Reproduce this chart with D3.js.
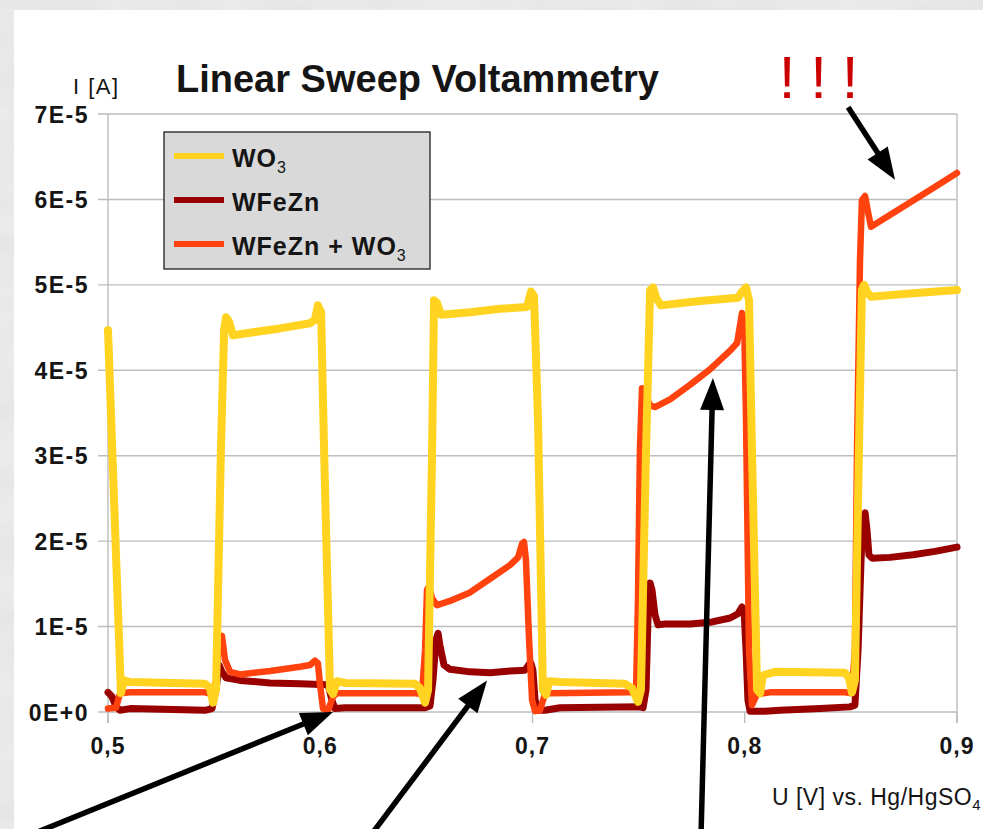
<!DOCTYPE html>
<html>
<head>
<meta charset="utf-8">
<script src="https://cdn.jsdelivr.net/npm/d3@7"></script>
<style>
html,body{margin:0;padding:0;background:#e8e8e8;}
svg{display:block;}
</style>
</head>
<body>
<svg id="chart" width="983" height="829"></svg>
<script>
// ---- data (voltage in V, current in µA; 10 µA = 1E-5 A) ----
const seriesNames = ["WO3", "WFeZn", "WFeZn + WO3"];
const xTicks = [0.5, 0.6, 0.7, 0.8, 0.9];
const xTickLabels = ["0,5", "0,6", "0,7", "0,8", "0,9"];
const yTicks = [0, 10, 20, 30, 40, 50, 60, 70];
const yTickLabels = ["0E+0", "1E-5", "2E-5", "3E-5", "4E-5", "5E-5", "6E-5", "7E-5"];

const wo3 = [[0.5000,44.7],[0.5061,2.2],[0.5075,3.7],[0.5104,3.5],[0.5457,3.3],[0.5481,2.8],[0.5495,1.1],[0.5509,2.6],[0.5532,30.7],[0.5547,44.7],[0.5556,46.2],[0.5570,45.7],[0.5589,44.1],[0.5669,44.4],[0.5810,44.9],[0.5952,45.5],[0.5975,45.9],[0.5989,47.6],[0.6004,46.8],[0.6018,30.7],[0.6046,2.6],[0.6060,2.1],[0.6079,3.6],[0.6117,3.4],[0.6446,3.3],[0.6470,2.8],[0.6494,1.1],[0.6508,2.6],[0.6527,30.7],[0.6536,48.2],[0.6550,47.9],[0.6569,46.5],[0.6706,46.8],[0.6847,47.2],[0.6974,47.4],[0.6993,49.2],[0.7007,48.7],[0.7026,34.2],[0.7049,2.6],[0.7064,2.0],[0.7078,3.6],[0.7130,3.5],[0.7436,3.3],[0.7469,2.8],[0.7497,1.2],[0.7511,2.6],[0.7535,30.7],[0.7554,49.4],[0.7568,49.7],[0.7582,48.5],[0.7605,47.6],[0.7789,48.1],[0.7968,48.5],[0.7987,49.2],[0.8006,49.7],[0.8020,48.2],[0.8034,30.7],[0.8058,2.6],[0.8072,2.2],[0.8086,4.3],[0.8143,4.7],[0.8472,4.6],[0.8491,4.0],[0.8505,2.3],[0.8519,3.7],[0.8538,30.7],[0.8552,49.4],[0.8562,50.0],[0.8576,49.2],[0.8595,48.6],[0.8779,49.0],[0.9000,49.4]];

const wfezn = [[0.5000,2.3],[0.5019,1.8],[0.5038,0.6],[0.5057,0.2],[0.5104,0.4],[0.5457,0.2],[0.5490,0.4],[0.5509,2.6],[0.5523,5.5],[0.5537,4.7],[0.5556,4.0],[0.5622,3.7],[0.5763,3.4],[0.5905,3.3],[0.6037,3.2],[0.6055,1.4],[0.6069,0.4],[0.6117,0.5],[0.6494,0.5],[0.6517,0.7],[0.6531,3.7],[0.6545,8.4],[0.6555,9.2],[0.6564,7.8],[0.6583,5.5],[0.6611,5.0],[0.6706,4.7],[0.6800,4.6],[0.6894,4.8],[0.6965,4.9],[0.6984,5.6],[0.6993,5.7],[0.7002,4.9],[0.7012,1.4],[0.7026,0.2],[0.7059,0.2],[0.7130,0.5],[0.7506,0.6],[0.7521,0.5],[0.7535,2.6],[0.7544,10.8],[0.7554,15.1],[0.7563,14.3],[0.7577,11.4],[0.7591,10.2],[0.7624,10.3],[0.7742,10.3],[0.7836,10.5],[0.7931,11.0],[0.7968,11.5],[0.7987,12.3],[0.7997,11.7],[0.8006,7.3],[0.8015,1.4],[0.8025,0.1],[0.8095,0.1],[0.8166,0.2],[0.8355,0.4],[0.8496,0.6],[0.8519,0.8],[0.8534,7.3],[0.8548,17.8],[0.8557,22.5],[0.8567,23.3],[0.8576,21.3],[0.8585,18.4],[0.8600,18.0],[0.8684,18.1],[0.8793,18.4],[0.8896,18.8],[0.9000,19.3]];

const wfeznWo3 = [[0.5000,0.4],[0.5038,0.5],[0.5057,2.2],[0.5104,2.3],[0.5457,2.3],[0.5490,2.1],[0.5509,3.7],[0.5523,8.4],[0.5537,8.9],[0.5551,6.1],[0.5575,4.7],[0.5622,4.4],[0.5763,4.8],[0.5905,5.3],[0.5952,5.5],[0.5975,6.0],[0.5989,5.7],[0.5999,3.2],[0.6013,0.4],[0.6037,0.2],[0.6060,1.8],[0.6079,2.2],[0.6446,2.2],[0.6479,2.1],[0.6494,7.3],[0.6503,14.3],[0.6512,14.7],[0.6527,13.3],[0.6550,12.5],[0.6611,13.0],[0.6706,14.0],[0.6800,15.6],[0.6894,17.2],[0.6932,18.1],[0.6951,19.7],[0.6960,19.9],[0.6969,17.8],[0.6984,8.4],[0.6998,1.4],[0.7012,0.1],[0.7035,0.2],[0.7059,2.1],[0.7082,2.2],[0.7459,2.3],[0.7488,2.6],[0.7497,13.1],[0.7506,30.7],[0.7516,37.9],[0.7530,37.1],[0.7554,35.9],[0.7577,35.7],[0.7648,36.6],[0.7742,38.3],[0.7836,40.1],[0.7931,42.3],[0.7964,43.2],[0.7978,45.3],[0.7987,46.7],[0.7997,45.9],[0.8006,34.2],[0.8020,7.3],[0.8034,0.8],[0.8058,2.1],[0.8119,2.3],[0.8472,2.3],[0.8505,2.2],[0.8519,7.3],[0.8529,30.7],[0.8543,52.9],[0.8552,59.9],[0.8567,60.4],[0.8581,58.5],[0.8595,56.8],[0.8731,58.9],[0.8873,61.1],[0.9000,63.1]];

// annotation arrows: [tailV, tailI, tipV, tipI] in data units
const arrows = [
  [0.8487, 70.8, 0.8708, 62.3],
  [0.4633, -14.4, 0.6060, 0.0],
  [0.6239, -14.4, 0.6786, 3.7],
  [0.7794, -14.4, 0.7850, 39.1]
];

// ---- drawing ----
const svg = d3.select("#chart");
const W = 983, H = 829;
const x = d3.scaleLinear().domain([0.5, 0.9]).range([108, 957]);
const y = d3.scaleLinear().domain([0, 70]).range([712, 114]);

const defs = svg.append("defs");
const f = defs.append("filter").attr("id", "tex").attr("x", 0).attr("y", 0).attr("width", 1).attr("height", 1);
f.append("feTurbulence").attr("type", "fractalNoise").attr("baseFrequency", "0.012 0.03").attr("numOctaves", 4).attr("seed", 7);
f.append("feColorMatrix").attr("type", "matrix")
  .attr("values", "0 0 0 0 0.72  0 0 0 0 0.72  0 0 0 0 0.72  0.9 0 0 0 -0.3");

svg.append("rect").attr("width", W).attr("height", H).attr("fill", "#ebebeb");
svg.append("rect").attr("width", W).attr("height", H).attr("filter", "url(#tex)");
svg.append("rect").attr("x", 14).attr("y", 10).attr("width", W - 14).attr("height", H - 10).attr("fill", "#ffffff");

const gridCol = "#bdbdbd";
// horizontal gridlines + y ticks
svg.append("g").selectAll("line").data(yTicks).join("line")
  .attr("x1", 98).attr("x2", x(0.9)).attr("y1", d => y(d)).attr("y2", d => y(d))
  .attr("stroke", gridCol).attr("stroke-width", 1.4);
// left axis & right border with x ticks
svg.append("g").selectAll("line").data([0.5, 0.9]).join("line")
  .attr("x1", d => x(d)).attr("x2", d => x(d)).attr("y1", y(70)).attr("y2", y(0) + 11)
  .attr("stroke", gridCol).attr("stroke-width", 1.4);
svg.append("g").selectAll("line").data(xTicks).join("line")
  .attr("x1", d => x(d)).attr("x2", d => x(d)).attr("y1", y(0)).attr("y2", y(0) + 11)
  .attr("stroke", gridCol).attr("stroke-width", 1.4);

const textCol = "#151515";
svg.append("g").selectAll("text").data(yTicks).join("text")
  .attr("x", 89).attr("y", d => y(d) + 8.5)
  .attr("text-anchor", "end")
  .attr("font-family", "'Liberation Sans', Arial, sans-serif").attr("font-weight", "bold")
  .attr("font-size", 23).attr("letter-spacing", 1.5).attr("fill", textCol)
  .text((d, i) => yTickLabels[i]);

svg.append("g").selectAll("text").data(xTicks).join("text")
  .attr("x", d => x(d)).attr("y", 754)
  .attr("text-anchor", "middle")
  .attr("font-family", "'Liberation Sans', Arial, sans-serif").attr("font-weight", "bold")
  .attr("font-size", 23).attr("letter-spacing", 1).attr("fill", textCol)
  .text((d, i) => xTickLabels[i]);

// title & axis labels
svg.append("text").attr("x", 176).attr("y", 92)
  .attr("font-family", "'Liberation Sans', Arial, sans-serif").attr("font-weight", "bold")
  .attr("font-size", 38).attr("fill", textCol).text("Linear Sweep Voltammetry");
svg.append("text").attr("x", 73).attr("y", 94)
  .attr("font-family", "'Liberation Sans', Arial, sans-serif")
  .attr("font-size", 22).attr("letter-spacing", 1.5).attr("fill", textCol).text("I [A]");
const xl = svg.append("text").attr("x", 981).attr("y", 805).attr("text-anchor", "end")
  .attr("font-family", "'Liberation Sans', Arial, sans-serif")
  .attr("font-size", 23).attr("letter-spacing", 0.5).attr("fill", textCol);
xl.append("tspan").text("U [V] vs. Hg/HgSO");
xl.append("tspan").attr("font-size", 15).attr("dy", 5).text("4");

// series lines (drawn so yellow ends on top)
const colors = {"WO3": "#ffd320", "WFeZn": "#990000", "WFeZn + WO3": "#ff420e"};
const widths = {"WO3": 8, "WFeZn": 7, "WFeZn + WO3": 6.5};
const dataMap = {"WO3": wo3, "WFeZn": wfezn, "WFeZn + WO3": wfeznWo3};
const line = d3.line().x(d => x(d[0])).y(d => y(d[1]));
["WFeZn", "WFeZn + WO3", "WO3"].forEach(name => {
  svg.append("path").datum(dataMap[name]).attr("d", line)
    .attr("fill", "none").attr("stroke", colors[name]).attr("stroke-width", widths[name])
    .attr("stroke-linejoin", "round").attr("stroke-linecap", "round");
});

// legend
const lg = svg.append("g");
lg.append("rect").attr("x", 164).attr("y", 132).attr("width", 266).attr("height", 137)
  .attr("fill", "#d9d9d9").attr("stroke", "#1e1e1e").attr("stroke-width", 1.3);
seriesNames.forEach((name, i) => {
  const ly = 156 + i * 44;
  lg.append("line").attr("x1", 174).attr("x2", 224).attr("y1", ly).attr("y2", ly)
    .attr("stroke", colors[name]).attr("stroke-width", 6);
  const t = lg.append("text").attr("x", 232).attr("y", ly + 11)
    .attr("font-family", "'Liberation Sans', Arial, sans-serif").attr("font-weight", "bold")
    .attr("font-size", 25).attr("letter-spacing", 1).attr("fill", textCol);
  if (name.endsWith("WO3")) {
    t.append("tspan").text(name.slice(0, -1));
    t.append("tspan").attr("font-size", 16).attr("font-weight", "normal").attr("dy", 6).text("3");
  } else {
    t.text(name);
  }
});

// exclamation marks
svg.append("g").selectAll("text").data([0, 1, 2]).join("text")
  .attr("x", d => 787 + d * 31.5).attr("y", 98).attr("text-anchor", "middle")
  .attr("font-family", "'Liberation Sans', Arial, sans-serif")
  .attr("font-size", 60).attr("fill", "#cc0000").text("!");

// arrows
const ag = svg.append("g");
arrows.forEach(a => {
  const x1 = x(a[0]), y1 = y(a[1]), x2 = x(a[2]), y2 = y(a[3]);
  const dx = x2 - x1, dy = y2 - y1, L = Math.hypot(dx, dy);
  const ux = dx / L, uy = dy / L, hl = 32, hw = 12;
  const bx = x2 - ux * hl, by = y2 - uy * hl;
  ag.append("line").attr("x1", x1).attr("y1", y1).attr("x2", bx + ux * 2).attr("y2", by + uy * 2)
    .attr("stroke", "#000").attr("stroke-width", 5.5);
  ag.append("path")
    .attr("d", `M${x2},${y2}L${bx - uy * hw},${by + ux * hw}L${bx + uy * hw},${by - ux * hw}Z`)
    .attr("fill", "#000");
});
</script>
</body>
</html>
